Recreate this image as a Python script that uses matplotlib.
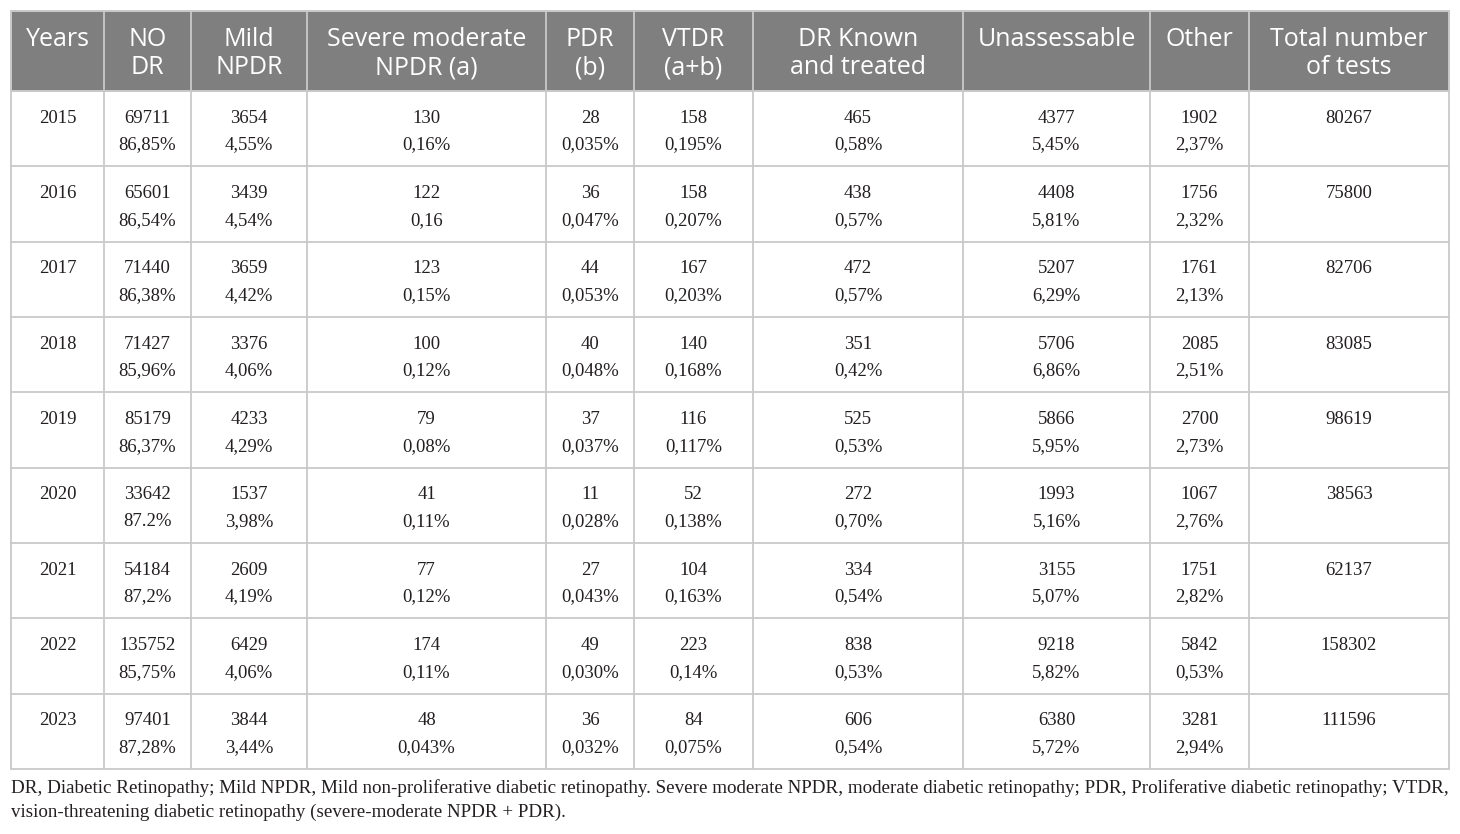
import matplotlib
matplotlib.use("Agg")
import matplotlib.pyplot as plt
from matplotlib.patches import Rectangle

# ---------------- data ----------------
headers = ["Years", "NO\nDR", "Mild\nNPDR", "Severe moderate\nNPDR (a)", "PDR\n(b)",
           "VTDR\n(a+b)", "DR Known\nand treated", "Unassessable", "Other",
           "Total number\nof tests"]
years = ["2015", "2016", "2017", "2018", "2019", "2020", "2021", "2022", "2023"]
no_dr_n = ["69711", "65601", "71440", "71427", "85179", "33642", "54184", "135752", "97401"]
no_dr_pct = ["86,85%", "86,54%", "86,38%", "85,96%", "86,37%", "87.2%", "87,2%", "85,75%", "87,28%"]
mild_n = ["3654", "3439", "3659", "3376", "4233", "1537", "2609", "6429", "3844"]
mild_pct = ["4,55%", "4,54%", "4,42%", "4,06%", "4,29%", "3,98%", "4,19%", "4,06%", "3,44%"]
severe_n = ["130", "122", "123", "100", "79", "41", "77", "174", "48"]
severe_pct = ["0,16%", "0,16", "0,15%", "0,12%", "0,08%", "0,11%", "0,12%", "0,11%", "0,043%"]
pdr_n = ["28", "36", "44", "40", "37", "11", "27", "49", "36"]
pdr_pct = ["0,035%", "0,047%", "0,053%", "0,048%", "0,037%", "0,028%", "0,043%", "0,030%", "0,032%"]
vtdr_n = ["158", "158", "167", "140", "116", "52", "104", "223", "84"]
vtdr_pct = ["0,195%", "0,207%", "0,203%", "0,168%", "0,117%", "0,138%", "0,163%", "0,14%", "0,075%"]
known_n = ["465", "438", "472", "351", "525", "272", "334", "838", "606"]
known_pct = ["0,58%", "0,57%", "0,57%", "0,42%", "0,53%", "0,70%", "0,54%", "0,53%", "0,54%"]
unass_n = ["4377", "4408", "5207", "5706", "5866", "1993", "3155", "9218", "6380"]
unass_pct = ["5,45%", "5,81%", "6,29%", "6,86%", "5,95%", "5,16%", "5,07%", "5,82%", "5,72%"]
other_n = ["1902", "1756", "1761", "2085", "2700", "1067", "1751", "5842", "3281"]
other_pct = ["2,37%", "2,32%", "2,13%", "2,51%", "2,73%", "2,76%", "2,82%", "0,53%", "2,94%"]
total_n = ["80267", "75800", "82706", "83085", "98619", "38563", "62137", "158302", "111596"]

footnote1 = ("DR, Diabetic Retinopathy; Mild NPDR, Mild non-proliferative diabetic retinopathy. "
             "Severe moderate NPDR, moderate diabetic retinopathy; PDR, Proliferative diabetic "
             "retinopathy; VTDR,")
footnote2 = "vision-threatening diabetic retinopathy (severe-moderate NPDR + PDR)."

# ---------------- layout ----------------
W, H = 1460, 834
col_edges = [11, 104, 191, 307, 546, 634, 753, 963, 1150, 1249, 1449]
header_top, header_bot = 11, 91
row_h = (769 - 91) / 9.0

HEADER_BG = "#7f7f7f"
GRID = "#c9c9c9"
TXT = "#231f20"

fig = plt.figure(figsize=(W / 100, H / 100), dpi=100)
ax = fig.add_axes([0, 0, 1, 1])
ax.set_xlim(0, W)
ax.set_ylim(H, 0)
ax.axis("off")

# header background
ax.add_patch(Rectangle((col_edges[0], header_top), col_edges[-1] - col_edges[0],
                       header_bot - header_top, facecolor=HEADER_BG, edgecolor=GRID, lw=1.2, zorder=1))

# grid
table_bot = header_bot + 9 * row_h
for x in col_edges:
    ax.plot([x, x], [header_top, table_bot], color=GRID, lw=1.3, zorder=2, solid_capstyle="butt")
for i in range(10):
    y = header_bot + i * row_h
    ax.plot([col_edges[0], col_edges[-1]], [y, y], color=GRID, lw=1.3, zorder=2)
ax.plot([col_edges[0], col_edges[-1]], [header_top, header_top], color=GRID, lw=1.3, zorder=2)

centers = [(col_edges[i] + col_edges[i + 1]) / 2 for i in range(10)]

# header text
hfont = dict(family="Open Sans", fontsize=18, color="white")
for c, h in zip(centers, headers):
    for k, line in enumerate(h.split("\n")):
        ax.text(c, 46.2 + k * 28, line, ha="center", va="baseline", zorder=3, **hfont)

# body text
bfont = dict(family="Liberation Serif", fontsize=13.5, color=TXT)
cols = [(years, None), (no_dr_n, no_dr_pct), (mild_n, mild_pct), (severe_n, severe_pct),
        (pdr_n, pdr_pct), (vtdr_n, vtdr_pct), (known_n, known_pct), (unass_n, unass_pct),
        (other_n, other_pct), (total_n, None)]
for r in range(9):
    top = header_bot + r * row_h
    for c, (first, second) in zip(centers, cols):
        ax.text(c, top + 31.7, first[r], ha="center", va="baseline", zorder=3, **bfont)
        if second is not None:
            ax.text(c, top + 58.5, second[r], ha="center", va="baseline", zorder=3, **bfont)

# footnote, sized to span the table width
ffont = dict(family="Liberation Serif", color=TXT)
t1 = ax.text(col_edges[0], 793, footnote1, ha="left", va="baseline", fontsize=12, **ffont)
fig.canvas.draw()
r = fig.canvas.get_renderer()
w = t1.get_window_extent(renderer=r).width
fs = 12 * (col_edges[-1] - col_edges[0]) / w
t1.set_fontsize(fs)
ax.text(col_edges[0], 817, footnote2, ha="left", va="baseline", fontsize=fs, **ffont)

fig.savefig("out.png", dpi=100)
